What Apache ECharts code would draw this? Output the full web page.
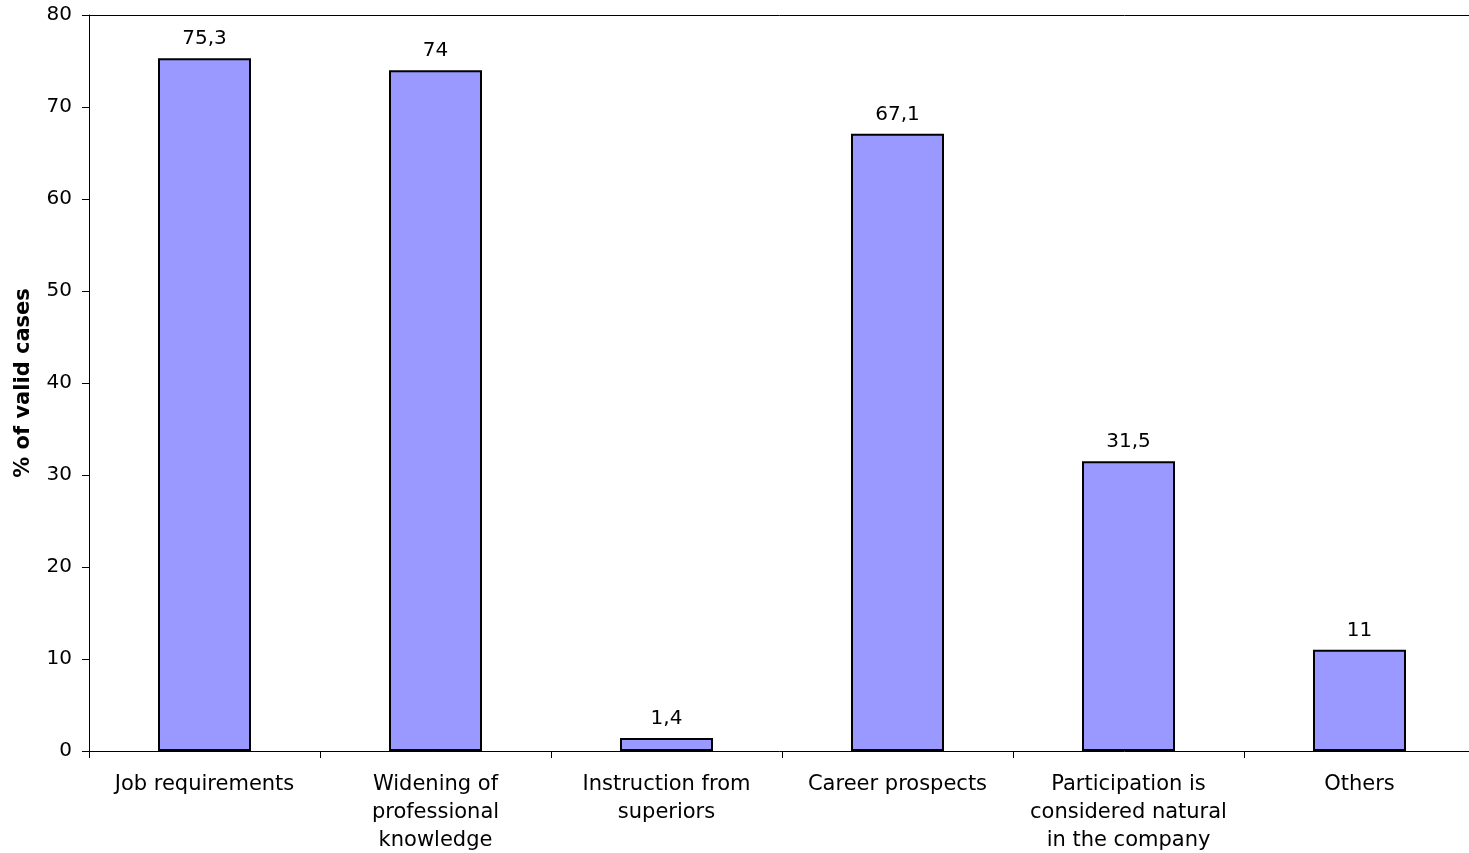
<!DOCTYPE html>
<html>
<head>
<meta charset="utf-8">
<script src="https://cdn.jsdelivr.net/npm/echarts@6/dist/echarts.min.js"></script>
<style>
  html, body { margin: 0; padding: 0; background: #fff; }
  #chart { width: 1469px; height: 853px; }
</style>
</head>
<body>
<div id="chart"></div>
<script>
// Reasons for taking part in training (% of valid cases)
const categories = [
  'Job requirements',
  'Widening of\nprofessional\nknowledge',
  'Instruction from\nsuperiors',
  'Career prospects',
  'Participation is\nconsidered natural\nin the company',
  'Others'
];
const values = [75.3, 74, 1.4, 67.1, 31.5, 11];
const yAxisTitle = '% of valid cases';
const yMin = 0, yMax = 80, yStep = 10;

const FONT = '"DejaVu Sans", Verdana, sans-serif';
const chart = echarts.init(document.getElementById('chart'), null, { renderer: 'canvas' });

chart.setOption({
  animation: false,
  backgroundColor: '#ffffff',
  grid: {
    left: 89, top: 15, width: 1386, height: 736,
    show: false, containLabel: false, outerBoundsMode: 'none'
  },
  xAxis: [{
    type: 'category',
    data: categories,
    axisLine: { lineStyle: { color: '#000', width: 1 } },
    axisTick: { show: true, alignWithLabel: false, length: 7, lineStyle: { color: '#000' } },
    axisLabel: {
      interval: 0, color: '#000', fontFamily: FONT, fontSize: 21,
      lineHeight: 28, margin: 20, align: 'center'
    },
    splitLine: { show: false }
  }, {
    // top frame line of the plot area
    type: 'category',
    data: categories,
    position: 'top',
    axisLine: { show: true, lineStyle: { color: '#000', width: 1 } },
    axisTick: { show: false },
    axisLabel: { show: false },
    splitLine: { show: false }
  }],
  yAxis: {
    type: 'value',
    min: yMin, max: yMax, interval: yStep,
    name: yAxisTitle,
    nameLocation: 'middle',
    nameGap: 55,
    nameTextStyle: { color: '#000', fontFamily: FONT, fontSize: 21, fontWeight: 'bold' },
    axisLine: { show: true, lineStyle: { color: '#000', width: 1 } },
    axisTick: { show: true, length: 7, lineStyle: { color: '#000' } },
    axisLabel: { color: '#000', fontFamily: FONT, fontSize: 20, margin: 17 },
    splitLine: { show: false }
  },
  series: [{
    type: 'bar',
    xAxisIndex: 0,
    data: values,
    barWidth: 93,
    itemStyle: { color: '#9999FF', borderColor: '#000', borderWidth: 2 },
    label: {
      show: true, position: 'top', distance: 9,
      color: '#000', fontFamily: FONT, fontSize: 20,
      formatter: p => String(p.value).replace('.', ',')
    }
  }]
});
</script>
</body>
</html>
